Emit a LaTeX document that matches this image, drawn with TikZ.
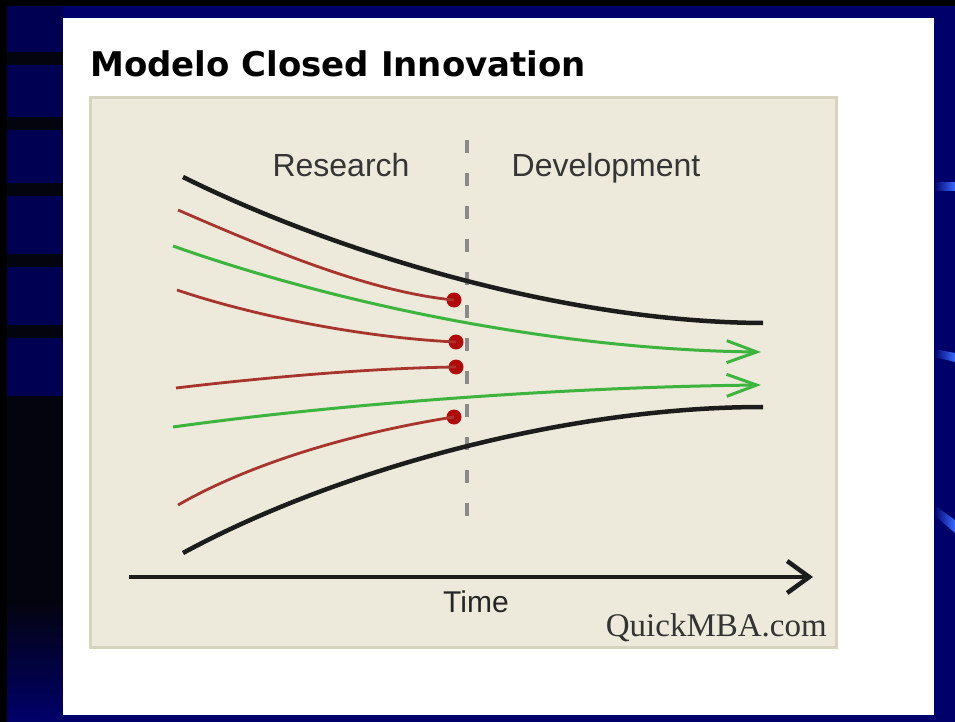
\documentclass[tikz,border=0pt]{standalone}
\usepackage{fontspec}
\setmainfont{Liberation Sans}
\newfontfamily\titlefont{DejaVu Sans}
\newfontfamily\serifont{Liberation Serif}
\usetikzlibrary{arrows.meta}
\definecolor{navy}{HTML}{00006A}
\definecolor{navyleft}{HTML}{000052}
\definecolor{darkleft}{HTML}{04040E}
\definecolor{swoosh}{HTML}{3A6BFF}
\definecolor{beige}{HTML}{EDEADC}
\definecolor{beigeborder}{HTML}{D6D3BE}
\definecolor{redln}{HTML}{A8342E}
\definecolor{reddot}{HTML}{B00A0A}
\definecolor{greenln}{HTML}{3DB43D}
\definecolor{curveblack}{HTML}{1C1C1C}
\definecolor{dashgray}{HTML}{8A8A8A}
\definecolor{lbltext}{HTML}{353535}
\tikzset{
  blackcurve/.style={draw=curveblack,line width=4.5},
  redline/.style={draw=redln,line width=2.8},
  greenline/.style={draw=greenln,line width=3,-{Straight Barb[length=30pt,width=22pt]}},
  enddot/.style={circle,fill=reddot,inner sep=0pt,minimum size=15pt},
  lbl/.style={text=lbltext,font=\fontsize{32}{36}\selectfont,inner sep=0pt,anchor=base},
  divider/.style={draw=dashgray,line width=3.5,dash pattern=on 13pt off 20pt},
  timearrow/.style={draw=curveblack,line width=4.5,-{Straight Barb[length=22pt,width=32pt]}},
  leftbar/.style={fill=darkleft}
}
\begin{document}
\begin{tikzpicture}[x=1pt,y=-1pt]
\useasboundingbox (0,0) rectangle (955,722);
% background
\fill[navy] (0,0) rectangle (955,722);
\fill[navyleft] (0,0) rectangle (63,470);
\fill[darkleft] (0,409) rectangle (63,600);
\shade[top color=darkleft,bottom color=navy] (0,599) rectangle (63,722);
\foreach \yy in {52,117,183,254,325,396} {\fill[leftbar] (0,\yy) rectangle (63,\yy+13);}
\fill[black] (0,0) rectangle (955,6);
\fill[black] (0,0) rectangle (7,722);
% blue swooshes on the right
\shade[left color=navy,right color=swoosh] (934,183) -- (955,183) -- (955,191) -- (934,191) -- cycle;
\shade[left color=navy,right color=swoosh] (934,349) -- (955,353) -- (955,362) -- (934,357) -- cycle;
\shade[left color=navy,right color=swoosh] (934,505) -- (955,520) -- (955,533) -- (934,515) -- cycle;
% white slide
\fill[white] (63,18) rectangle (934,715);
% title
\node[font=\titlefont\bfseries\fontsize{34}{38}\selectfont,anchor=base west,inner sep=0pt] (title) at (90,77) {Modelo Closed Innovation};
% diagram panel
\filldraw[fill=beige,draw=beigeborder,line width=3] (90,98) rectangle (836,647);
% divider
\coordinate (divtop) at (467,140);
\coordinate (divbot) at (467,516);
\draw[divider] (divtop) -- (divbot);
% labels
\node[lbl] (research) at (341,177) {Research};
\node[lbl] (development) at (606,177) {Development};
% black envelope curves
\coordinate (bt0) at (183,177);
\coordinate (bt1) at (763,323);
\coordinate (bb0) at (183,553);
\coordinate (bb1) at (763,407);
\draw[blackcurve] (bt0) .. controls (330,250) and (560,322) .. (bt1);
\draw[blackcurve] (bb0) .. controls (330,473) and (560,407) .. (bb1);
% red dead-end projects
\node[enddot] (d1) at (454,300) {};
\node[enddot] (d2) at (456,342) {};
\node[enddot] (d3) at (456,367) {};
\node[enddot] (d4) at (454,417) {};
\coordinate (r1) at (178,210);
\coordinate (r2) at (177,290);
\coordinate (r3) at (176,388);
\coordinate (r4) at (178,505);
\draw[redline] (r1) .. controls (270,250) and (370,292) .. (d1.center);
\draw[redline] (r2) .. controls (260,318) and (370,338) .. (d2.center);
\draw[redline] (r3) .. controls (260,378) and (370,368) .. (d3.center);
\draw[redline] (r4) .. controls (260,458) and (370,430) .. (d4.center);
% green successful projects
\coordinate (g1) at (173,246);
\coordinate (g1e) at (761,352);
\coordinate (g2) at (173,427);
\coordinate (g2e) at (761,385);
\draw[greenline] (g1) .. controls (340,305) and (560,350) .. (g1e);
\draw[greenline] (g2) .. controls (330,405) and (560,387) .. (g2e);
% time axis
\coordinate (t0) at (129,577);
\coordinate (t1) at (813,577);
\draw[timearrow] (t0) -- (t1);
\node[lbl,text=black!85,font=\fontsize{30}{34}\selectfont] (time) at (476,612) {Time};
\node[font=\serifont\fontsize{33}{36}\selectfont,text=black!80,anchor=base east,inner sep=0pt] (quick) at (827,636) {QuickMBA.com};
\end{tikzpicture}
\end{document}
